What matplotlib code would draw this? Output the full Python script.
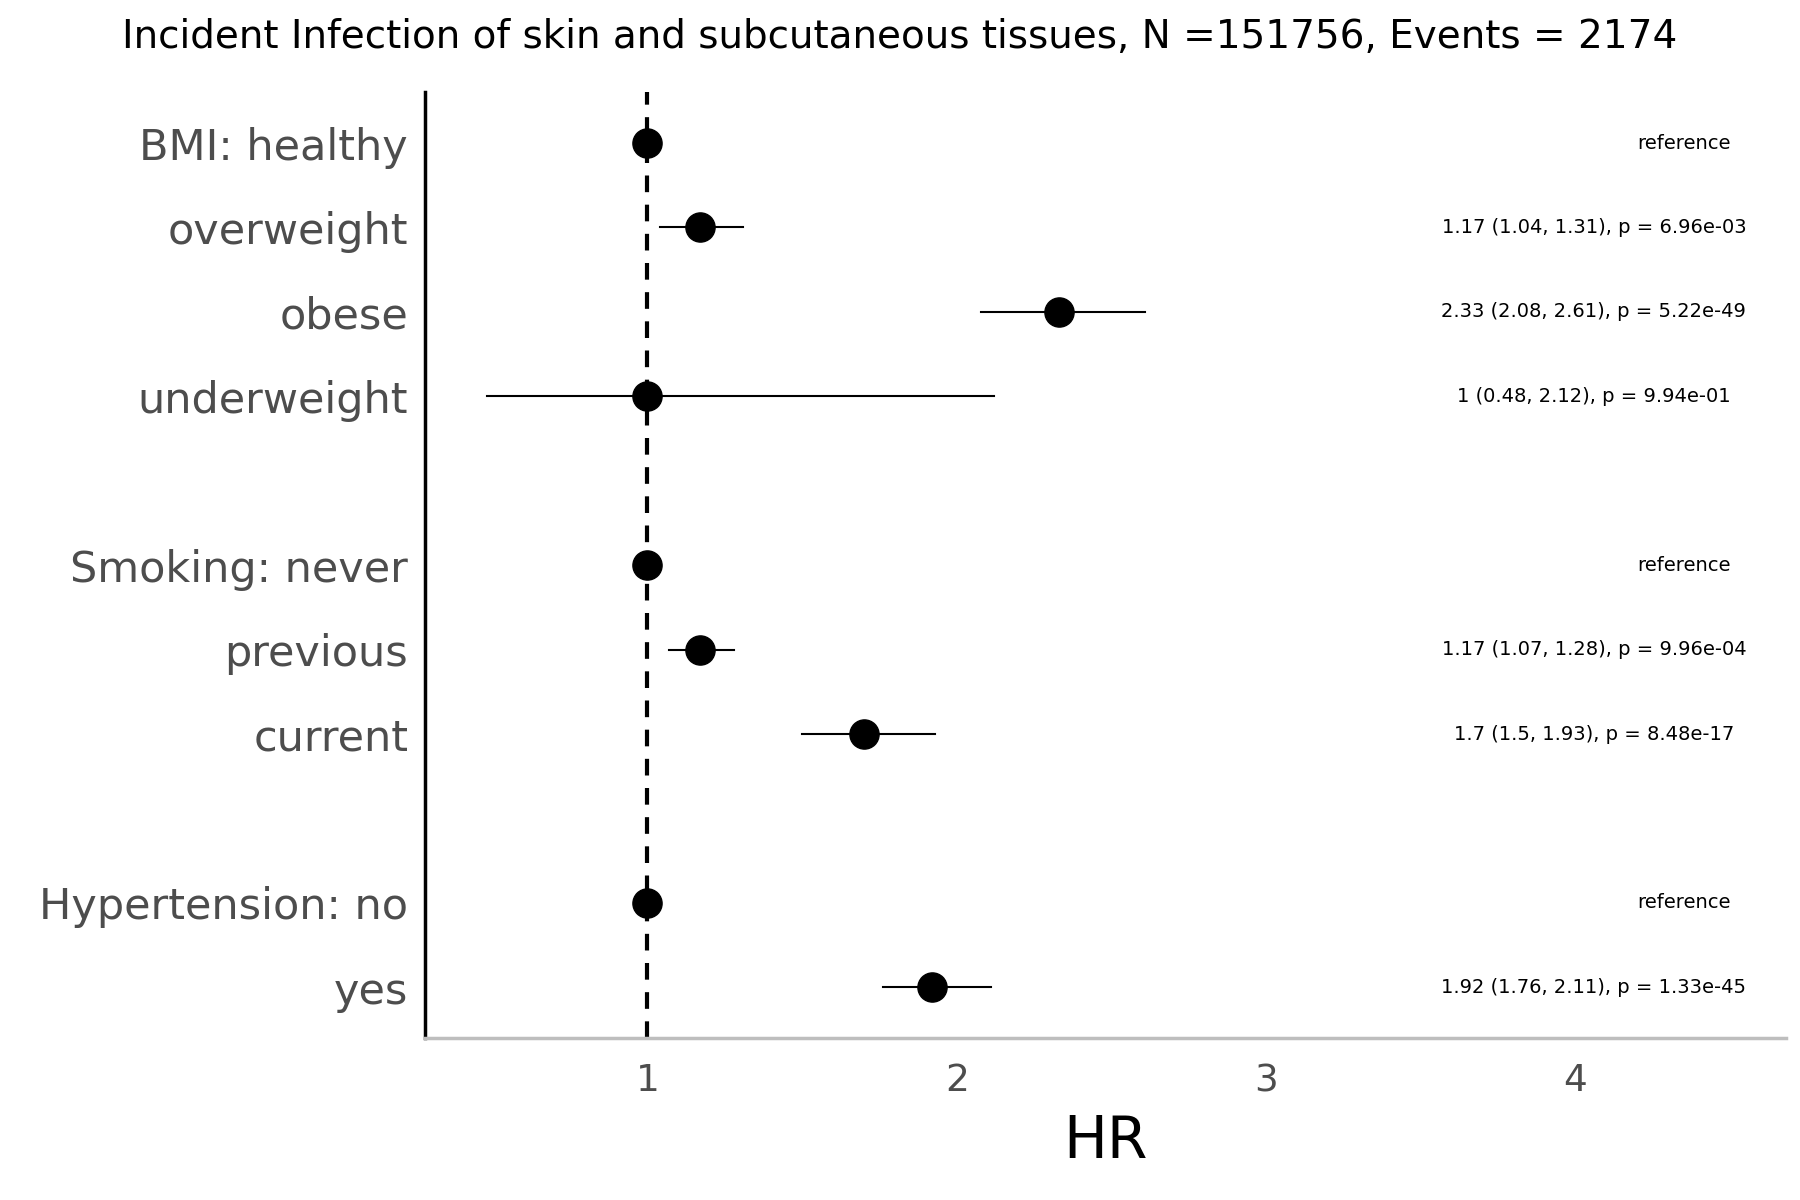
import matplotlib.pyplot as plt

labels = ['BMI: healthy', 'overweight', 'obese', 'underweight',
          'Smoking: never', 'previous', 'current',
          'Hypertension: no', 'yes']
rows = [0, 1, 2, 3, 5, 6, 7, 9, 10]
hr = [1.0, 1.17, 2.33, 1.0, 1.0, 1.17, 1.7, 1.0, 1.92]
lo = [1.0, 1.04, 2.08, 0.48, 1.0, 1.07, 1.5, 1.0, 1.76]
hi = [1.0, 1.31, 2.61, 2.12, 1.0, 1.28, 1.93, 1.0, 2.11]
notes = ['reference', '1.17 (1.04, 1.31), p = 6.96e-03', '2.33 (2.08, 2.61), p = 5.22e-49',
         '1 (0.48, 2.12), p = 9.94e-01',
         'reference', '1.17 (1.07, 1.28), p = 9.96e-04', '1.7 (1.5, 1.93), p = 8.48e-17',
         'reference', '1.92 (1.76, 2.11), p = 1.33e-45']

fig = plt.figure(figsize=(18, 12), dpi=100)
ax = fig.add_axes([0.236, 0.135, 0.756, 0.788])

ax.axvline(1, color='black', linestyle=(0, (4, 3)), linewidth=3, zorder=1)
for y, h, l, u, t in zip(rows, hr, lo, hi, notes):
    ax.plot([l, u], [y, y], color='black', linewidth=1.5, zorder=2)
    ax.plot(h, y, 'o', color='black', markersize=21, zorder=3)
    if t == 'reference':
        ax.text(4.35, y, t, ha='center', va='center', fontsize=14)
    else:
        ax.text(4.06, y, t, ha='center', va='center', fontsize=14)

ax.set_xlim(0.28, 4.68)
ax.set_ylim(10.6, -0.6)
ax.set_yticks(rows)
ax.set_yticklabels(labels, fontsize=31, color='#4d4d4d')
ax.set_xticks([1, 2, 3, 4])
ax.set_xticklabels(['1', '2', '3', '4'], fontsize=27, color='#4d4d4d')
ax.tick_params(length=0, pad=12)
ax.tick_params(axis='x', pad=18)
ax.set_xlabel('HR', fontsize=42, labelpad=10)
for s in ['top', 'right']:
    ax.spines[s].set_visible(False)
ax.spines['left'].set_linewidth(2.5)
ax.spines['bottom'].set_color('#bebebe')
ax.spines['bottom'].set_linewidth(2.5)
fig.suptitle('Incident Infection of skin and subcutaneous tissues, N =151756, Events = 2174',
             fontsize=28, x=0.5, y=0.985)
fig.savefig('out.png')
